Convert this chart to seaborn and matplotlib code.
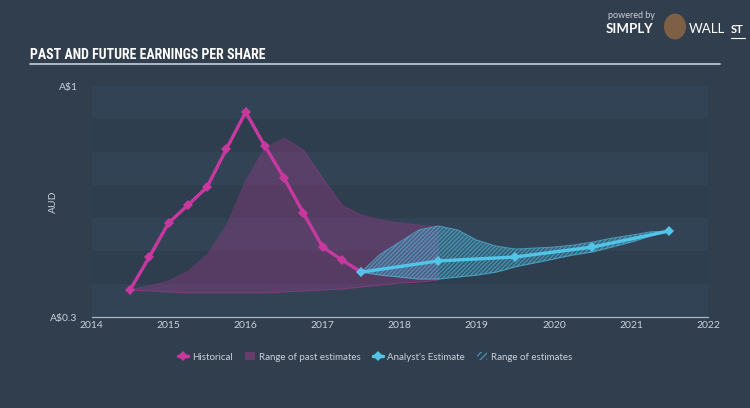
import matplotlib
matplotlib.use("Agg")
import matplotlib.pyplot as plt
from matplotlib.lines import Line2D
from matplotlib.patches import Patch, Ellipse
import seaborn as sns
import pandas as pd

# ---- data ----
hist_years = [2014.5, 2014.75, 2015.0, 2015.25, 2015.5, 2015.75, 2016.0,
              2016.25, 2016.5, 2016.75, 2017.0, 2017.25, 2017.5]
hist_eps = [0.382, 0.482, 0.585, 0.639, 0.694, 0.809, 0.921,
            0.818, 0.721, 0.615, 0.512, 0.473, 0.436]

est_years = [2017.5, 2018.5, 2019.5, 2020.5, 2021.5]
est_eps = [0.436, 0.470, 0.482, 0.512, 0.561]

past_range_years = [2014.5, 2014.75, 2015.0, 2015.25, 2015.5, 2015.75, 2016.0,
                    2016.25, 2016.5, 2016.75, 2017.0, 2017.25, 2017.5,
                    2017.75, 2018.0, 2018.25, 2018.5]
past_range_high = [0.382, 0.394, 0.409, 0.439, 0.488, 0.576, 0.712,
                   0.812, 0.842, 0.806, 0.721, 0.639, 0.609,
                   0.594, 0.585, 0.579, 0.573]
past_range_low = [0.382, 0.379, 0.376, 0.373, 0.373, 0.373, 0.373,
                  0.373, 0.376, 0.379, 0.382, 0.385, 0.391,
                  0.397, 0.403, 0.406, 0.412]

est_range_years = [2017.5, 2017.75, 2018.0, 2018.25, 2018.5, 2018.75, 2019.0,
                   2019.25, 2019.5, 2019.75, 2020.0, 2020.25, 2020.5,
                   2020.75, 2021.0, 2021.25, 2021.5]
est_range_high = [0.436, 0.491, 0.527, 0.564, 0.576, 0.564, 0.533,
                  0.515, 0.506, 0.509, 0.512, 0.518, 0.527,
                  0.539, 0.548, 0.558, 0.561]
est_range_low = [0.436, 0.427, 0.421, 0.415, 0.415, 0.421, 0.427,
                 0.436, 0.452, 0.464, 0.476, 0.488, 0.497,
                 0.512, 0.527, 0.545, 0.561]

x_ticks = [2014, 2015, 2016, 2017, 2018, 2019, 2020, 2021, 2022]
y_ticks = [0.3, 1.0]
y_tick_labels = ["A\\$0.3", "A\\$1"]

# ---- style ----
BG = "#313e4e"
BAND_A = "#33435 6".replace(" ", "")
BAND_B = "#2f3e4f"
MAGENTA = "#c8399f"
CYAN = "#52c4e8"
TXT = "#c9d1da"

sns.set_theme(style="white")
plt.rcParams["font.family"] = ["Lato", "DejaVu Sans"]

fig = plt.figure(figsize=(7.5, 4.08), dpi=100, facecolor=BG)
ax = fig.add_axes([0.122, 0.223, 0.822, 0.566])
ax.set_facecolor(BG)

# bands
n_bands = 7
y0, y1 = 0.3, 1.0
step = (y1 - y0) / n_bands
for i in range(n_bands):
    ax.axhspan(y1 - (i + 1) * step, y1 - i * step,
               color=BAND_A if i % 2 == 0 else BAND_B, lw=0, zorder=0)

# ranges
ax.fill_between(past_range_years, past_range_low, past_range_high,
                color=MAGENTA, alpha=0.26, lw=0, zorder=1)
ax.plot(past_range_years, past_range_high, color=MAGENTA, alpha=0.3, lw=0.8, zorder=1)
ax.plot(past_range_years, past_range_low, color=MAGENTA, alpha=0.3, lw=0.8, zorder=1)

ax.fill_between(est_range_years, est_range_low, est_range_high,
                facecolor=CYAN, alpha=0.22, lw=0, zorder=2)
ax.fill_between(est_range_years, est_range_low, est_range_high,
                facecolor="none", edgecolor=CYAN, alpha=0.5, hatch="////////",
                lw=0, zorder=2)
ax.plot(est_range_years, est_range_high, color=CYAN, alpha=0.6, lw=0.8, zorder=2)
ax.plot(est_range_years, est_range_low, color=CYAN, alpha=0.6, lw=0.8, zorder=2)

# lines
hist_df = pd.DataFrame({"year": hist_years, "eps": hist_eps})
est_df = pd.DataFrame({"year": est_years, "eps": est_eps})
sns.lineplot(data=hist_df, x="year", y="eps", ax=ax, color=MAGENTA, lw=2.4,
             marker="D", markersize=5.5, markeredgewidth=0, zorder=4)
sns.lineplot(data=est_df, x="year", y="eps", ax=ax, color=CYAN, lw=2.4,
             marker="D", markersize=5.5, markeredgewidth=0, zorder=5)

ax.set_xlim(2014, 2022)
ax.set_ylim(0.3, 1.0)
ax.set_xticks(x_ticks)
ax.set_xticklabels([str(t) for t in x_ticks], color=TXT, fontsize=7.5)
ax.set_yticks(y_ticks)
ax.set_yticklabels(y_tick_labels, color=TXT, fontsize=7.5)
ax.set_xlabel("")
ax.set_ylabel("AUD", color=TXT, fontsize=7.5)
ax.yaxis.set_label_coords(-0.054, 0.5)

for s in ["top", "right", "left"]:
    ax.spines[s].set_visible(False)
ax.spines["bottom"].set_color("#a9b6c4")
ax.spines["bottom"].set_linewidth(0.9)
ax.tick_params(axis="x", direction="in", length=6, width=0.9, color="#a9b6c4", pad=3)
ax.tick_params(axis="y", length=0, pad=10)

# title
fig.text(0.04, 0.864, "PAST AND FUTURE EARNINGS PER SHARE", color="white",
         fontsize=10, fontweight="bold", fontstretch="condensed",
         family=["Roboto Condensed", "DejaVu Sans"],
         va="center", ha="left")
fig.add_artist(Line2D([0.04, 0.96], [0.843, 0.843], color="#c7d0da", lw=1.2))

# branding
fig.text(0.81, 0.962, "powered by", color="#c9d1da", fontsize=6.5, ha="left", va="center")
fig.text(0.808, 0.928, "SIMPLY", color="white", fontsize=9.5, fontweight="bold",
         ha="left", va="center")
fig.add_artist(Ellipse((0.9, 0.935), 22 / 750, 26 / 408, transform=fig.transFigure,
                       facecolor="#7d6046", edgecolor="none"))
fig.text(0.918, 0.928, "WALL", color="white", fontsize=9.5, ha="left", va="center")
fig.text(0.975, 0.928, "ST", color="white", fontsize=8, fontweight="bold",
         ha="left", va="center")
fig.add_artist(Line2D([0.975, 0.993], [0.907, 0.907], color="white", lw=0.8))

# legend
handles = [
    Line2D([0], [0], color=MAGENTA, lw=2.5, marker="D", markersize=5, markeredgewidth=0),
    Patch(facecolor=MAGENTA, alpha=0.35, edgecolor="none"),
    Line2D([0], [0], color=CYAN, lw=2.5, marker="D", markersize=5, markeredgewidth=0),
    Patch(facecolor="none", edgecolor=CYAN, hatch="/////", alpha=0.6, lw=0),
]
labels = ["Historical", "Range of past estimates", "Analyst's Estimate", "Range of estimates"]
leg = fig.legend(handles, labels, loc="center", bbox_to_anchor=(0.5, 0.125), ncol=4,
                 frameon=False, fontsize=7, labelcolor=TXT, handlelength=1.1,
                 handletextpad=0.4, columnspacing=1.2, handleheight=0.8)

fig.savefig("out.png", dpi=100, facecolor=BG)
